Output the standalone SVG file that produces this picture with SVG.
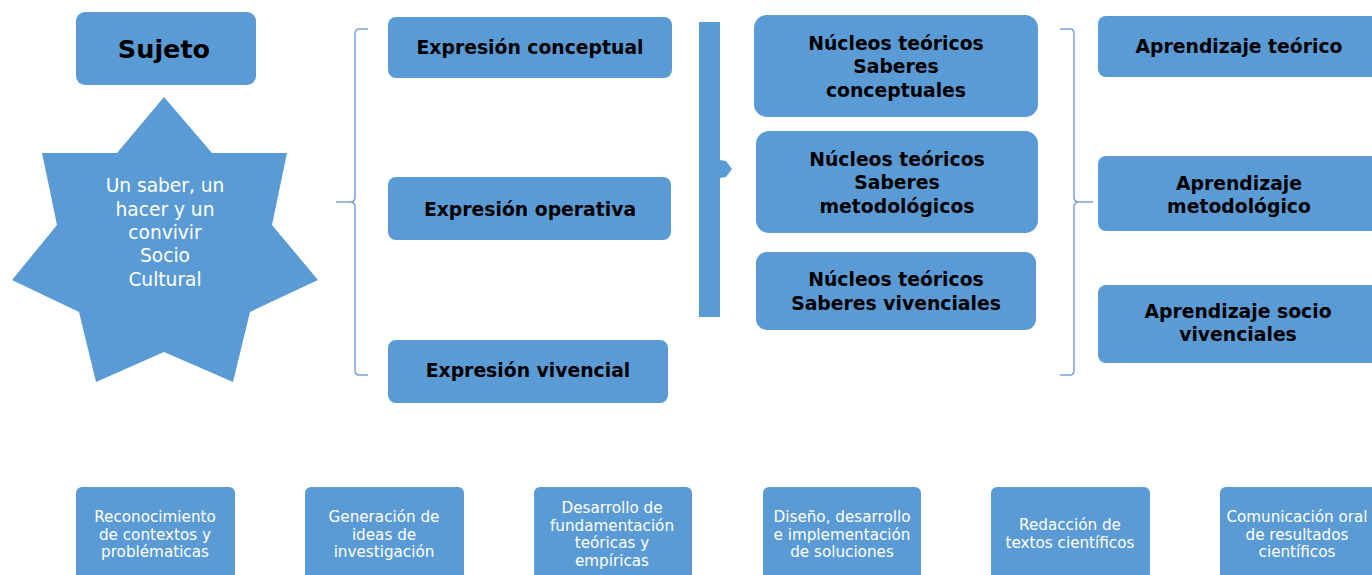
<svg xmlns="http://www.w3.org/2000/svg" width="1372" height="575" viewBox="0 0 1372 575">
<style>
.box{fill:#5B9BD5;}
.b{font-family:"DejaVu Sans",Verdana,sans-serif;font-weight:bold;fill:#000;text-anchor:middle;font-size:18.8px;}
.w{font-family:"DejaVu Sans",Verdana,sans-serif;fill:#fff;text-anchor:middle;}
.s{font-size:15.2px;}
.brace{fill:none;stroke:#7F9FD8;stroke-width:1.5;}
</style>
<rect width="1372" height="575" fill="#fff"/>
<g id="sujeto"><rect class="box" x="76" y="12" width="180" height="73" rx="9"/><text class="b" x="164" y="58" style="font-size:25.5px">Sujeto</text></g>
<g id="star"><polygon class="box" points="164,97 212,153 287,153 272,225 318,280 250,312 233,382 164,352 96,382 79,312 12,280 57,225 42,153 117,153"/>
<text class="w" style="font-size:18.6px" x="165"><tspan x="165" y="192">Un saber, un</tspan><tspan x="165" y="215.5">hacer y un</tspan><tspan x="165" y="239">convivir</tspan><tspan x="165" y="262">Socio</tspan><tspan x="165" y="286">Cultural</tspan></text></g>
<g id="connectors">
<path class="brace" d="M368,29 H359 Q355,29 355,34 V197 Q355,202 350,202 H336 M350,202 Q355,202 355,207 V370 Q355,375 359,375 H368"/>
<path class="box" d="M699,22 H720 V160 L726,161 L732,169 L726,177 L720,178 V317 H699 Z"/>
<path class="brace" d="M1060,29 H1070 Q1074,29 1074,34 V197 Q1074,202 1079,202 H1093 M1079,202 Q1074,202 1074,207 V370 Q1074,375 1070,375 H1060"/>
</g>
<g id="expr-conceptual"><rect class="box" x="388" y="17" width="284" height="61" rx="8"/><text class="b" x="530" y="54">Expresión conceptual</text></g>
<g id="expr-operativa"><rect class="box" x="388" y="177" width="283" height="63" rx="8"/><text class="b" x="530" y="216">Expresión operativa</text></g>
<g id="expr-vivencial"><rect class="box" x="388" y="340" width="280" height="63" rx="8"/><text class="b" x="528" y="377">Expresión vivencial</text></g>
<g id="nucleos-1"><rect class="box" x="754" y="15" width="284" height="102" rx="13"/><text class="b"><tspan x="896" y="50">Núcleos teóricos</tspan><tspan x="896" y="73">Saberes</tspan><tspan x="896" y="97">conceptuales</tspan></text></g>
<g id="nucleos-2"><rect class="box" x="756" y="131" width="282" height="102" rx="13"/><text class="b"><tspan x="897" y="166">Núcleos teóricos</tspan><tspan x="897" y="189">Saberes</tspan><tspan x="897" y="213">metodológicos</tspan></text></g>
<g id="nucleos-3"><rect class="box" x="756" y="252" width="280" height="78" rx="11"/><text class="b"><tspan x="896" y="286">Núcleos teóricos</tspan><tspan x="896" y="310">Saberes vivenciales</tspan></text></g>
<g id="aprend-teorico"><rect class="box" x="1098" y="16" width="290" height="61" rx="8"/><text class="b" x="1239" y="53">Aprendizaje teórico</text></g>
<g id="aprend-metod"><rect class="box" x="1098" y="156" width="290" height="75" rx="8"/><text class="b"><tspan x="1239" y="190">Aprendizaje</tspan><tspan x="1239" y="213">metodológico</tspan></text></g>
<g id="aprend-socio"><rect class="box" x="1098" y="285" width="290" height="78" rx="8"/><text class="b"><tspan x="1238" y="318">Aprendizaje socio</tspan><tspan x="1238" y="341">vivenciales</tspan></text></g>
<g id="bottom-1"><rect class="box" x="76" y="487" width="159" height="100" rx="6"/><text class="w s"><tspan x="155" y="522">Reconocimiento</tspan><tspan x="155" y="539.5">de contextos y</tspan><tspan x="155" y="557">problématicas</tspan></text></g>
<g id="bottom-2"><rect class="box" x="305" y="487" width="159" height="100" rx="6"/><text class="w s"><tspan x="384" y="522">Generación de</tspan><tspan x="384" y="539.5">ideas de</tspan><tspan x="384" y="557">investigación</tspan></text></g>
<g id="bottom-3"><rect class="box" x="534" y="487" width="158" height="100" rx="6"/><text class="w s"><tspan x="612" y="513">Desarrollo de</tspan><tspan x="612" y="530.5">fundamentación</tspan><tspan x="612" y="548">teóricas y</tspan><tspan x="612" y="565.5">empíricas</tspan></text></g>
<g id="bottom-4"><rect class="box" x="763" y="487" width="158" height="100" rx="6"/><text class="w s"><tspan x="842" y="522">Diseño, desarrollo</tspan><tspan x="842" y="539.5">e implementación</tspan><tspan x="842" y="557">de soluciones</tspan></text></g>
<g id="bottom-5"><rect class="box" x="991" y="487" width="159" height="100" rx="6"/><text class="w s"><tspan x="1070" y="530">Redacción de</tspan><tspan x="1070" y="547.5">textos científicos</tspan></text></g>
<g id="bottom-6"><rect class="box" x="1220" y="487" width="170" height="100" rx="6"/><text class="w s"><tspan x="1297" y="522">Comunicación oral</tspan><tspan x="1297" y="539.5">de resultados</tspan><tspan x="1297" y="557">científicos</tspan></text></g>
</svg>
